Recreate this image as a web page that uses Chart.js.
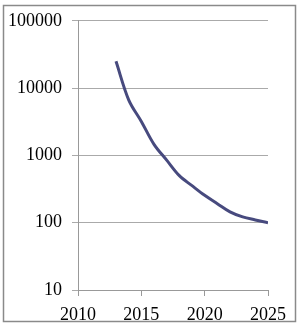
<!DOCTYPE html>
<html>
<head>
<meta charset="utf-8">
<script src="https://cdn.jsdelivr.net/npm/chart.js@4"></script>
<style>
html,body{margin:0;padding:0;background:#fff;}
#wrap{width:300px;height:329px;position:relative;}
</style>
</head>
<body>
<div id="wrap"><canvas id="c" width="300" height="329"></canvas></div>
<script>
const years = [2013, 2014, 2015, 2016, 2017, 2018, 2019, 2020, 2021, 2022, 2023, 2024, 2025];
const values = [25000, 6700, 3200, 1460, 850, 500, 355, 255, 192, 145, 122, 110, 100];
const yTicks = [10, 100, 1000, 10000, 100000];
const xTicks = [2010, 2015, 2020, 2025];

const points = years.map((y, i) => ({x: y, y: values[i]}));

const frame = {
  id: 'frame',
  afterDraw(chart) {
    const ctx = chart.ctx;
    ctx.save();
    ctx.strokeStyle = '#8a8a8a';
    ctx.lineWidth = 1.5;
    ctx.strokeRect(3.5, 5.5, 292, 316);
    ctx.restore();
  }
};

new Chart(document.getElementById('c'), {
  type: 'line',
  data: {
    datasets: [{
      data: points,
      borderColor: '#474a7e',
      borderWidth: 3,
      pointRadius: 0,
      tension: 0.35,
      fill: false
    }]
  },
  options: {
    responsive: false,
    animation: false,
    events: [],
    layout: {padding: {left: 0, top: 19, right: 32, bottom: 0}},
    plugins: {legend: {display: false}, tooltip: {enabled: false}},
    scales: {
      x: {
        type: 'linear',
        min: 2010, max: 2025,
        afterBuildTicks(s) { s.ticks = xTicks.map(v => ({value: v})); },
        afterFit(s) { s.height = 39; },
        ticks: {
          color: '#000',
          font: {family: 'Liberation Serif', size: 18},
          padding: 8,
          maxRotation: 0,
          callback: v => String(v)
        },
        grid: {drawOnChartArea: false, drawTicks: true, tickLength: 6, color: '#999', lineWidth: 1},
        border: {display: true, color: '#999', width: 1}
      },
      y: {
        type: 'logarithmic',
        min: 10, max: 100000,
        afterBuildTicks(s) { s.ticks = yTicks.map(v => ({value: v})); },
        afterFit(s) { s.width = 78; },
        ticks: {
          color: '#000',
          font: {family: 'Liberation Serif', size: 18},
          padding: 10,
          callback: v => String(v)
        },
        grid: {color: '#aaaaaa', lineWidth: 1, tickLength: 6, drawTicks: true},
        border: {display: true, color: '#999', width: 1}
      }
    }
  },
  plugins: [frame]
});
</script>
</body>
</html>
